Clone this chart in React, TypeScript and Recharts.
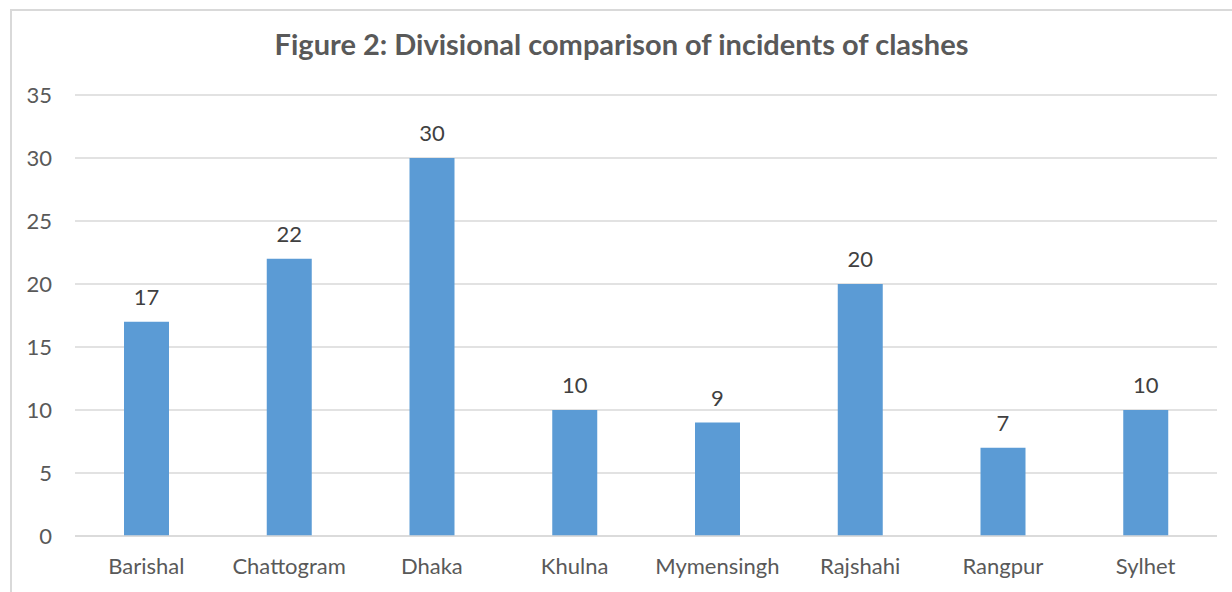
import { BarChart, Bar, XAxis, YAxis, CartesianGrid, LabelList } from 'recharts'

const divisions = ['Barishal', 'Chattogram', 'Dhaka', 'Khulna', 'Mymensingh', 'Rajshahi', 'Rangpur', 'Sylhet']
const clashes = [17, 22, 30, 10, 9, 20, 7, 10]
const yTicks = [0, 5, 10, 15, 20, 25, 30, 35]

const data = divisions.map((name, i) => ({ name, value: clashes[i] }))

const FONT = 'Lato, "Open Sans", sans-serif'
const TICK = { fill: '#595959', fontSize: 22, fontFamily: FONT }

export default function App() {
  return (
    <div style={{ position: 'absolute', left: 0, top: 0, width: 1232, height: 592, background: '#fff', overflow: 'hidden' }}>
      {/* chart frame, only top and left edges visible */}
      <div
        style={{
          position: 'absolute', left: 10, top: 9, width: 1300, height: 700,
          borderLeft: '2px solid #d9d9d9', borderTop: '2px solid #d9d9d9',
        }}
      />
      <div
        style={{
          position: 'absolute', left: 11, right: 0, top: 26, textAlign: 'center',
          fontFamily: FONT, fontWeight: 700, fontSize: 29, color: '#595959',
        }}
      >
        Figure 2: Divisional comparison of incidents of clashes
      </div>
      <div style={{ position: 'absolute', left: 0, top: 0 }}>
        <BarChart width={1232} height={592} data={data} margin={{ top: 95, right: 15, bottom: 0, left: 0 }}>
          <CartesianGrid vertical={false} stroke="#d9d9d9" strokeWidth={1.5} />
          <XAxis
            dataKey="name"
            tick={TICK}
            tickLine={false}
            axisLine={{ stroke: '#d9d9d9', strokeWidth: 1.5 }}
            tickMargin={16}
            height={56}
            interval={0}
          />
          <YAxis
            domain={[0, 35]}
            ticks={yTicks}
            tick={TICK}
            tickLine={false}
            axisLine={false}
            width={75}
            tickMargin={17}
          />
          <Bar dataKey="value" fill="#5b9bd5" barSize={45} isAnimationActive={false}>
            <LabelList dataKey="value" position="top" offset={17} fill="#404040" fontSize={22} fontFamily={FONT} />
          </Bar>
        </BarChart>
      </div>
    </div>
  )
}
